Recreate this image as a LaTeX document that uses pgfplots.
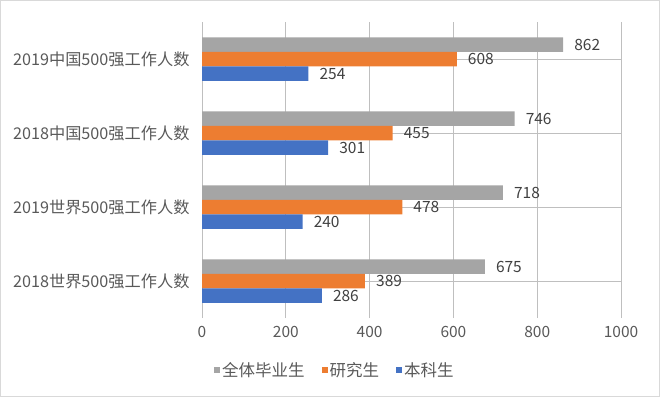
\documentclass[border=0pt]{standalone}
\usepackage{pgfplots}
\pgfplotsset{compat=1.18}
\usepackage{fontspec}
\setmainfont{Noto Sans CJK SC}
\definecolor{cgray}{HTML}{A5A5A5}
\definecolor{corange}{HTML}{ED7D31}
\definecolor{cblue}{HTML}{4472C4}
\definecolor{grid}{HTML}{D9D9D9}
\definecolor{txt}{HTML}{595959}
\definecolor{vtxt}{HTML}{404040}
\begin{document}
\begin{tikzpicture}
\useasboundingbox (0,0) rectangle (660pt,397pt);
\draw[grid] (0.5pt,0.5pt) rectangle (659.5pt,396.5pt);
\begin{axis}[
  at={(202pt,79pt)}, anchor=south west,
  scale only axis, width=419pt, height=296pt,
  xbar=0pt, bar width=14.5pt,
  xmin=0, xmax=1000, ymin=-0.5, ymax=3.5,
  xtick={0,200,...,1000},
  ytick={0,1,2,3},
  yticklabels={2018世界500强工作人数,2019世界500强工作人数,2018中国500强工作人数,2019中国500强工作人数},
  axis line style={draw=none},
  major tick length=0pt,
  xmajorgrids, major grid style={grid, line width=0.8pt},
  /pgf/number format/assume math mode=true,
  /pgf/number format/1000 sep={},
  ticklabel style={font=\fontsize{15.5}{18}\selectfont, text=txt},
  xticklabel style={yshift=-5pt},
  yticklabel style={xshift=-9pt, font=\fontsize{16.2}{19}\selectfont},
  nodes near coords,
  nodes near coords style={font=\fontsize{15.5}{18}\selectfont, text=vtxt, anchor=west, inner sep=0pt, xshift=11pt},
  legend style={draw=none, fill=none, at={(0.317,-0.176)}, anchor=center,
    font=\fontsize{16.5}{19}\selectfont, text=txt, inner sep=0pt,
    /tikz/every even column/.append style={column sep=15pt}},
  legend columns=3,
  legend image code/.code={\fill[#1,draw=none] (0pt,-3pt) rectangle (6pt,3pt);},
  clip=false,
]
\addplot[fill=cgray, draw=none, bar shift=14.5pt] coordinates {(675,0) (718,1) (746,2) (862,3)};
\addplot[fill=corange, draw=none, bar shift=0pt] coordinates {(389,0) (478,1) (455,2) (608,3)};
\addplot[fill=cblue, draw=none, bar shift=-14.5pt] coordinates {(286,0) (240,1) (301,2) (254,3)};
\legend{全体毕业生,研究生,本科生}
\end{axis}
\end{tikzpicture}
\end{document}
